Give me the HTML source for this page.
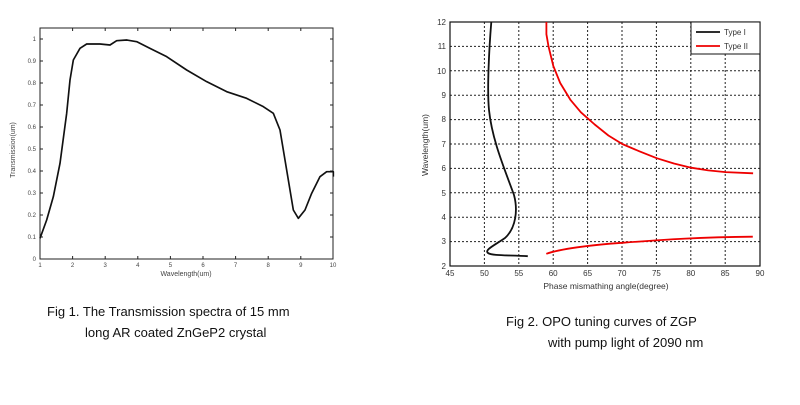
<!DOCTYPE html>
<html><head><style>
body{margin:0;background:#fff;width:800px;height:400px;overflow:hidden}
svg text{font-family:"Liberation Sans",sans-serif}
</style></head><body>
<svg width="800" height="400" viewBox="0 0 800 400" xmlns="http://www.w3.org/2000/svg">
<!-- Left chart -->
<rect x="40" y="28" width="293" height="231" fill="none" stroke="#222" stroke-width="1"/>
<g font-size="6" fill="#444" text-anchor="end">
<text x="36" y="261">0</text><text x="36" y="239">0.1</text><text x="36" y="217">0.2</text>
<text x="36" y="195">0.3</text><text x="36" y="173">0.4</text><text x="36" y="151">0.5</text>
<text x="36" y="129">0.6</text><text x="36" y="107">0.7</text><text x="36" y="85">0.8</text>
<text x="36" y="63">0.9</text><text x="36" y="41">1</text>
</g>
<g font-size="6" fill="#444" text-anchor="middle">
<text x="40" y="267">1</text><text x="72.6" y="267">2</text><text x="105.2" y="267">3</text>
<text x="137.8" y="267">4</text><text x="170.4" y="267">5</text><text x="203" y="267">6</text>
<text x="235.6" y="267">7</text><text x="268.2" y="267">8</text><text x="300.8" y="267">9</text><text x="333" y="267">10</text>
<text x="186" y="276" font-size="7">Wavelength(um)</text>
</g>
<text x="15" y="150" font-size="7" fill="#444" text-anchor="middle" transform="rotate(-90 15 150)">Transmission(um)</text>
<g stroke="#222" stroke-width="1">
<path d="M40 259v-3M72.6 259v-3M105.2 259v-3M137.8 259v-3M170.4 259v-3M203 259v-3M235.6 259v-3M268.2 259v-3M300.8 259v-3M72.6 28v3M105.2 28v3M137.8 28v3M170.4 28v3M203 28v3M235.6 28v3M268.2 28v3M300.8 28v3"/>
<path d="M40 237h3M40 215h3M40 193h3M40 171h3M40 149h3M40 127h3M40 105h3M40 83h3M40 61h3M40 39h3M333 237h-3M333 215h-3M333 193h-3M333 171h-3M333 149h-3M333 127h-3M333 105h-3M333 83h-3M333 61h-3M333 39h-3"/>
</g>
<g transform="translate(0,20) scale(0.33333)">
<path fill="none" stroke="#111" stroke-width="5" stroke-linejoin="round" d="M120 655 L140 600 L160 530 L180 430 L200 280 L210 180 L220 120 L240 85 L260 72 L300 72 L330 75 L350 62 L380 60 L410 65 L450 85 L500 110 L560 150 L620 185 L680 215 L740 235 L790 260 L820 280 L840 330 L860 450 L880 570 L895 595 L915 570 L935 520 L960 470 L980 455 L1000 455 L1000 470"/>
</g>
<!-- Right chart -->
<g stroke="#222" stroke-width="1" stroke-dasharray="2,2">
<path d="M484.4 22v244M518.8 22v244M553.2 22v244M587.6 22v244M622 22v244M656.4 22v244M690.8 22v244M725.2 22v244"/>
<path d="M450 241.6h310M450 217.2h310M450 192.8h310M450 168.4h310M450 144h310M450 119.6h310M450 95.2h310M450 70.8h310M450 46.4h310"/>
</g>
<rect x="450" y="22" width="310" height="244" fill="none" stroke="#111" stroke-width="1.2"/>
<g font-size="8" fill="#333" text-anchor="end">
<text x="446" y="269">2</text><text x="446" y="244">3</text><text x="446" y="220">4</text>
<text x="446" y="196">5</text><text x="446" y="171">6</text><text x="446" y="147">7</text>
<text x="446" y="122">8</text><text x="446" y="98">9</text><text x="446" y="74">10</text>
<text x="446" y="49">11</text><text x="446" y="25">12</text>
</g>
<g font-size="8" fill="#333" text-anchor="middle">
<text x="450" y="276">45</text><text x="484.4" y="276">50</text><text x="518.8" y="276">55</text>
<text x="553.2" y="276">60</text><text x="587.6" y="276">65</text><text x="622" y="276">70</text>
<text x="656.4" y="276">75</text><text x="690.8" y="276">80</text><text x="725.2" y="276">85</text><text x="760" y="276">90</text>
<text x="606" y="289" font-size="8.5">Phase mismathing angle(degree)</text>
</g>
<text x="428" y="145" font-size="8.5" fill="#333" text-anchor="middle" transform="rotate(-90 428 145)">Wavelength(um)</text>
<path fill="none" stroke="#111" stroke-width="1.8" d="M491.3,22 C489,50 487,90 489,110 C492,140 505,170 514,195 C518,210 516,228 505,238 C495,245 484,250 488,253 C492,256 510,255 527.8,256.2"/>
<polyline fill="none" stroke="#e00" stroke-width="1.8" stroke-linejoin="round" points="546.4,22 546.4,34.2 548.5,46.4 553.3,65.9 560.2,83 570.6,100.1 580.9,112.3 594.7,124.5 608.4,135.5 622.2,144 639.4,151.3 656.7,158.2 673.9,163.5 691.1,167.7 708.3,170.4 725.6,172.1 753.1,173.3"/>
<path fill="none" stroke="#e00" stroke-width="1.8" d="M546.3,253.8 C560,249 590,245 622,242.8 C660,240 700,237 752.8,236.7"/>
<rect x="691" y="22" width="69" height="32" fill="#fff" stroke="#111" stroke-width="1"/>
<line x1="696" y1="32" x2="720" y2="32" stroke="#111" stroke-width="1.8"/>
<line x1="696" y1="46" x2="720" y2="46" stroke="#e00" stroke-width="1.8"/>
<text x="724" y="35" font-size="8" fill="#333">Type I</text>
<text x="724" y="49" font-size="8" fill="#333">Type II</text>
<!-- captions -->
<g font-size="13" fill="#111">
<text x="47" y="316">Fig 1.  The Transmission spectra of 15 mm</text>
<text x="85" y="337">long  AR coated ZnGeP2 crystal</text>
<text x="506" y="326">Fig 2.   OPO tuning curves of ZGP</text>
<text x="548" y="347">with pump light of 2090 nm</text>
</g>
</svg>
</body></html>
